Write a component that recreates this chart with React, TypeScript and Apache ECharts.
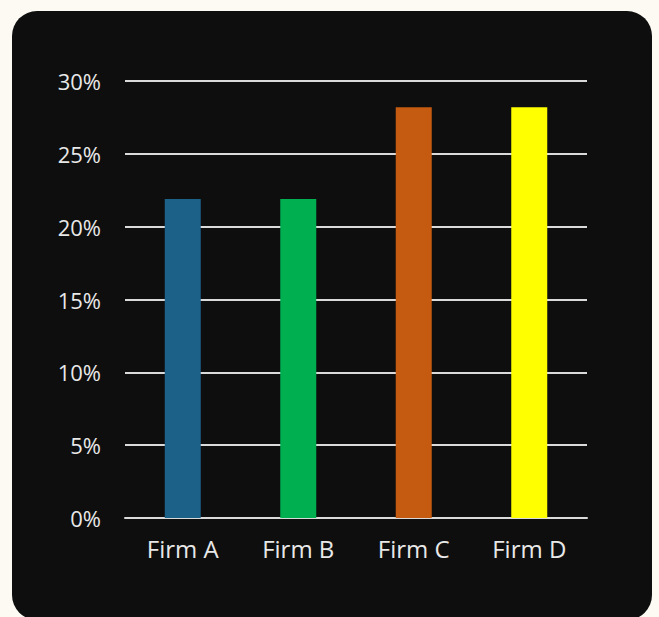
import React, { useEffect, useRef } from "react";
import * as echarts from "echarts";

const categories = ["Firm A", "Firm B", "Firm C", "Firm D"];
const values = [21.9, 21.9, 28.2, 28.2];
const barColors = ["#1c6288", "#00b050", "#c55a11", "#ffff00"];
const yTicks = { min: 0, max: 30, interval: 5 };

export default function App() {
  const ref = useRef<HTMLDivElement>(null);
  useEffect(() => {
    if (!ref.current) return;
    const chart = echarts.init(ref.current, null, { renderer: "svg" });
    chart.setOption({
      animation: false,
      backgroundColor: "#fdfaf4",
      graphic: [
        {
          type: "rect",
          shape: { x: 12, y: 11, width: 640, height: 609, r: 25 },
          style: { fill: "#0e0e0e" },
          z: -10,
          silent: true,
        },
      ],
      grid: { left: 125, right: 72, top: 81, bottom: 99, containLabel: false },
      xAxis: {
        type: "category",
        data: categories,
        axisLine: { show: true, lineStyle: { color: "#dadada", width: 2 } },
        axisTick: { show: false },
        axisLabel: {
          color: "#e8e8e8",
          fontSize: 24,
          fontFamily: "Open Sans",
          margin: 18,
        },
      },
      yAxis: {
        type: "value",
        min: yTicks.min,
        max: yTicks.max,
        interval: yTicks.interval,
        axisLine: { show: false },
        axisTick: { show: false },
        splitLine: { lineStyle: { color: "#dadada", width: 2 } },
        axisLabel: {
          color: "#e8e8e8",
          fontSize: 22,
          fontFamily: "Open Sans",
          margin: 24,
          formatter: "{value}%",
        },
      },
      series: [
        {
          type: "bar",
          barWidth: 36,
          data: values.map((v, i) => ({ value: v, itemStyle: { color: barColors[i] } })),
        },
      ],
    });
    return () => chart.dispose();
  }, []);
  return (
    <div
      ref={ref}
      style={{ position: "fixed", left: 0, top: 0, width: 659, height: 617 }}
    />
  );
}
